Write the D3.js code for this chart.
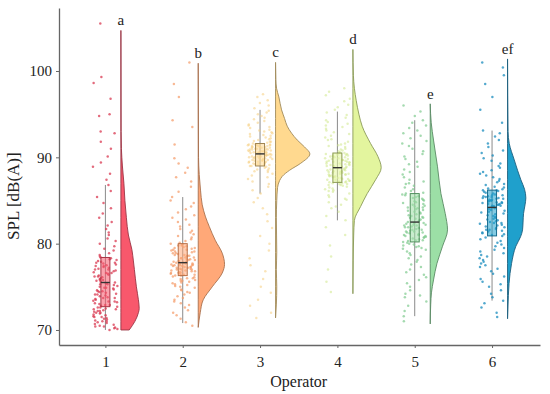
<!DOCTYPE html>
<html>
<head>
<meta charset="utf-8">
<script src="https://cdn.jsdelivr.net/npm/d3@7"></script>
<style>
  body { margin: 0; background: #fff; }
  svg text { font-family: "Liberation Serif", "DejaVu Serif", serif; fill: #222; }
</style>
</head>
<body>
<svg id="chart" width="550" height="394"></svg>
<script>
// operators and their significance letters
const operators = [1, 2, 3, 4, 5, 6];
const letters = ["a", "b", "c", "d", "e", "ef"];

// box statistics
const q1 = [72.7, 76.3, 89.0, 87.1, 80.2, 80.9];
const medians = [75.5, 77.8, 90.4, 88.8, 82.5, 84.2];
const q3 = [78.4, 80.0, 91.6, 90.5, 85.8, 86.2];
const whiskerLo = [70.0, 70.8, 85.8, 82.7, 71.6, 73.4];
const whiskerHi = [86.8, 85.4, 95.5, 95.3, 94.3, 93.1];

// half violin outlines: SPL levels and density at each
const violinLevels = [
  [70.0, 71.0, 72.0, 72.5, 73.5, 75.0, 77.0, 78.0, 79.3, 81.0, 83.0, 85.0, 87.0, 89.0, 91.0, 93.0, 104.7],
  [70.3, 72.0, 73.5, 75.0, 76.6, 77.6, 78.9, 80.4, 82.0, 83.1, 84.5, 86.2, 88.0, 90.0, 100.9],
  [71.4, 73.0, 75.0, 77.0, 79.0, 81.0, 83.0, 85.0, 86.5, 87.3, 87.8, 88.5, 89.3, 90.4, 91.2, 92.0, 92.8, 93.6, 94.5, 95.5, 97.0, 98.0, 99.0, 101.0],
  [74.2, 78.0, 81.0, 82.7, 84.3, 85.8, 87.4, 88.8, 90.1, 91.6, 93.6, 95.0, 96.6, 98.0, 99.5, 102.5],
  [70.7, 73.0, 74.3, 75.8, 77.7, 79.7, 81.6, 83.5, 85.8, 88.9, 92.0, 94.0, 96.2],
  [71.3, 74.0, 75.4, 77.7, 79.7, 80.8, 81.6, 82.5, 83.5, 84.5, 85.3, 86.3, 87.4, 88.5, 89.7, 91.6, 93.0, 101.4]
];
const violinDensity = [
  [0.083, 0.14, 0.175, 0.183, 0.175, 0.155, 0.135, 0.125, 0.11, 0.075, 0.055, 0.04, 0.03, 0.015, 0.005, 0.002, 0],
  [0, 0.02, 0.05, 0.14, 0.24, 0.263, 0.24, 0.17, 0.11, 0.073, 0.04, 0.023, 0.01, 0.003, 0],
  [0, 0.008, 0.012, 0.008, 0.012, 0.01, 0.008, 0.012, 0.02, 0.04, 0.067, 0.14, 0.25, 0.343, 0.29, 0.217, 0.16, 0.117, 0.09, 0.06, 0.033, 0.01, 0.003, 0],
  [0, 0.003, 0.008, 0.015, 0.077, 0.143, 0.227, 0.283, 0.25, 0.177, 0.093, 0.06, 0.033, 0.015, 0.005, 0],
  [0, 0.005, 0.012, 0.033, 0.067, 0.123, 0.173, 0.15, 0.107, 0.073, 0.033, 0.01, 0],
  [0, 0.008, 0.015, 0.04, 0.083, 0.13, 0.15, 0.155, 0.16, 0.175, 0.183, 0.17, 0.133, 0.1, 0.067, 0.017, 0.005, 0]
];

// individual measurements (dB(A))
const spl1 = [70.0,70.1,70.2,70.3,70.4,70.4,70.5,70.6,70.7,70.8,70.9,71.0,71.0,71.1,71.2,71.3,71.4,71.5,71.5,71.6,71.7,71.8,71.9,72.0,72.0,72.1,72.2,72.2,72.3,72.4,72.4,72.5,72.6,72.6,72.7,
  72.8,72.9,72.9,73.0,73.1,73.2,73.3,73.3,73.4,73.5,73.6,73.7,73.7,73.8,73.9,74.0,74.1,74.1,74.2,74.3,74.4,74.5,74.5,74.6,74.7,74.8,74.9,74.9,75.0,75.1,75.2,75.3,75.3,75.4,75.5,
  75.6,75.7,75.8,75.8,75.9,76.0,76.1,76.2,76.2,76.3,76.4,76.5,76.6,76.6,76.7,76.8,76.9,77.0,77.0,77.1,77.2,77.3,77.4,77.4,77.5,77.6,77.7,77.8,77.8,77.9,78.0,78.1,78.2,78.3,78.4,
  78.5,78.7,78.9,79.2,79.4,79.7,80.0,80.3,80.6,81.0,81.3,81.7,82.1,82.5,83.0,83.5,84.1,84.7,85.4,86.1,86.8,87.4,88.1,88.9,89.4,90.1,91.0,91.8,92.8,93.0,94.8,95.0,96.8,98.6,99.3,105.5];
const spl2 = [70.5,70.9,71.3,71.7,72.0,72.3,72.6,72.9,73.1,73.3,73.5,73.7,73.9,74.1,74.3,74.4,74.6,74.7,74.9,75.0,75.1,75.2,75.3,75.4,75.5,75.6,75.7,75.7,75.8,75.9,76.0,76.0,76.1,76.2,76.3,
  76.3,76.4,76.4,76.5,76.5,76.6,76.6,76.7,76.7,76.8,76.8,76.9,76.9,77.0,77.0,77.0,77.1,77.1,77.2,77.2,77.3,77.3,77.3,77.4,77.4,77.5,77.5,77.5,77.6,77.6,77.7,77.7,77.7,77.8,77.8,
  77.9,77.9,78.0,78.0,78.1,78.1,78.2,78.2,78.3,78.3,78.4,78.4,78.5,78.6,78.6,78.7,78.7,78.8,78.9,78.9,79.0,79.1,79.1,79.2,79.3,79.3,79.4,79.5,79.5,79.6,79.7,79.8,79.8,79.9,80.0,
  80.1,80.3,80.5,80.7,80.9,81.1,81.3,81.5,81.7,82.0,82.2,82.5,82.8,83.0,83.3,83.6,84.0,84.3,84.7,85.0,85.4,86.0,86.6,87.2,87.7,88.2,88.8,89.3,89.9,91.5,93.5,94.3,97.0,98.5,101.0];
const spl3 = [71.4,72.0,72.8,73.5,74.3,75.0,75.9,76.8,77.5,78.3,79.2,80.0,80.9,81.8,82.6,83.4,84.1,84.8,85.3,85.8,86.2,86.6,86.9,87.2,87.5,87.7,87.9,88.1,88.3,88.4,88.5,88.6,88.7,88.8,88.9,
  89.0,89.0,89.1,89.1,89.2,89.2,89.3,89.3,89.4,89.4,89.5,89.5,89.5,89.6,89.6,89.7,89.7,89.7,89.8,89.8,89.9,89.9,89.9,90.0,90.0,90.0,90.1,90.1,90.1,90.2,90.2,90.3,90.3,90.3,90.4,
  90.4,90.5,90.5,90.5,90.6,90.6,90.6,90.7,90.7,90.7,90.8,90.8,90.8,90.9,90.9,90.9,91.0,91.0,91.0,91.1,91.1,91.1,91.2,91.2,91.2,91.3,91.3,91.3,91.4,91.4,91.4,91.5,91.5,91.5,91.6,
  91.7,91.8,91.8,91.9,92.0,92.1,92.2,92.3,92.4,92.5,92.6,92.7,92.8,92.9,93.0,93.1,93.2,93.4,93.5,93.7,93.8,94.0,94.2,94.4,94.6,94.8,95.0,95.2,95.4,95.7,96.0,96.3,96.6,97.0,97.3];
const spl4 = [74.4,75.6,77.0,78.5,79.8,81.0,81.9,82.7,83.2,83.7,84.1,84.3,84.5,84.8,85.1,85.2,85.4,85.6,85.8,86.0,86.1,86.2,86.3,86.4,86.5,86.6,86.7,86.8,86.8,86.9,86.9,87.0,87.0,87.1,87.1,
  87.2,87.2,87.3,87.3,87.4,87.4,87.5,87.5,87.6,87.6,87.7,87.7,87.8,87.8,87.9,87.9,88.0,88.0,88.0,88.1,88.1,88.2,88.2,88.3,88.3,88.4,88.4,88.5,88.5,88.6,88.6,88.7,88.7,88.8,88.8,
  88.9,88.9,89.0,89.0,89.1,89.1,89.2,89.2,89.3,89.3,89.4,89.4,89.5,89.5,89.5,89.6,89.6,89.7,89.7,89.8,89.8,89.9,89.9,90.0,90.0,90.1,90.1,90.2,90.2,90.3,90.3,90.4,90.4,90.5,90.5,
  90.6,90.7,90.8,90.9,91.0,91.2,91.3,91.4,91.5,91.6,91.8,92.0,92.1,92.3,92.5,92.7,92.9,93.1,93.3,93.5,93.7,93.9,94.1,94.3,94.6,94.9,95.2,95.5,95.8,96.1,96.5,96.8,97.2,97.6,98.0];
const spl5 = [71.0,71.6,72.2,72.8,73.3,73.8,74.0,74.2,74.6,75.0,75.4,75.8,76.1,76.4,76.7,77.0,77.3,77.6,77.9,78.1,78.3,78.5,78.7,78.9,79.1,79.3,79.4,79.5,79.6,79.7,79.8,79.9,80.0,80.1,80.2,
  80.3,80.4,80.4,80.5,80.6,80.7,80.7,80.8,80.9,80.9,81.0,81.0,81.1,81.2,81.3,81.3,81.4,81.4,81.5,81.6,81.6,81.7,81.8,81.8,81.9,81.9,82.0,82.1,82.1,82.2,82.2,82.3,82.4,82.4,82.5,
  82.6,82.7,82.8,82.9,83.0,83.0,83.1,83.2,83.3,83.4,83.5,83.6,83.7,83.8,83.9,84.0,84.1,84.2,84.2,84.3,84.4,84.5,84.6,84.7,84.8,84.9,85.0,85.1,85.2,85.3,85.4,85.5,85.6,85.7,85.8,
  85.9,86.1,86.3,86.5,86.7,86.9,87.0,87.2,87.4,87.7,88.0,88.3,88.6,88.9,89.2,89.5,89.8,90.1,90.4,90.7,91.0,91.3,91.6,91.9,92.2,92.5,92.8,93.1,93.4,93.7,94.0,94.3,94.8,95.3,96.0];
const spl6 = [71.5,72.0,72.6,73.1,73.4,73.8,74.2,74.6,75.0,75.3,75.6,75.9,76.2,76.5,76.8,77.1,77.3,77.5,77.7,77.9,78.1,78.3,78.5,78.7,78.9,79.1,79.3,79.5,79.7,79.9,80.1,80.3,80.5,80.7,80.9,
  81.0,81.1,81.2,81.3,81.4,81.5,81.6,81.6,81.7,81.8,81.9,82.0,82.1,82.2,82.3,82.4,82.4,82.5,82.6,82.7,82.8,82.9,83.0,83.1,83.2,83.3,83.4,83.5,83.6,83.7,83.8,83.9,84.0,84.1,84.2,
  84.3,84.3,84.4,84.4,84.5,84.5,84.6,84.6,84.7,84.7,84.8,84.8,84.9,84.9,85.0,85.0,85.1,85.1,85.2,85.2,85.3,85.3,85.4,85.4,85.5,85.5,85.6,85.6,85.7,85.8,85.9,86.0,86.1,86.2,86.2,
  86.3,86.4,86.5,86.6,86.8,86.9,87.1,87.3,87.5,87.7,87.9,88.1,88.3,88.5,88.8,89.0,89.3,89.6,89.9,90.2,90.5,90.8,91.2,91.6,92.0,92.4,92.8,93.1,94.0,95.5,97.0,98.5,99.5,100.4,101.0];
const measurements = [spl1, spl2, spl3, spl4, spl5, spl6];

const yTicks = [70, 80, 90, 100];

const fillColors = ["#F8586C", "#FFA878", "#FFD98F", "#E3F59E", "#9CDFA6", "#1FA0CC"];
const pointColors = ["#D93A52", "#F59A66", "#F6CD7E", "#CFE88A", "#7FCB8F", "#1A8CBE"];
const pointAlpha = [0.75, 0.7, 0.55, 0.55, 0.7, 0.75];
const boxStroke = ["#A83444", "#B87048", "#A08450", "#8A9A50", "#4F8F5C", "#176A8C"];
const violinStroke = ["#9A3444", "#A8704E", "#A08A5A", "#8A9A58", "#5A8A64", "#1D5F7E"];

const svg = d3.select("#chart");

const x = d3.scaleLinear().domain([0.4, 6.62]).range([59, 540]);
const y = d3.scaleLinear().domain([68.26, 107.3]).range([345, 8]);
const w = d3.scaleLinear().domain([0, 0.35]).range([0, 35]);

// deterministic jitter in [-0.5, 0.5) from an integer hash of the index
function jitter(k, seed) {
  let h = (k + 1) * 374761393 + seed * 668265263;
  h = Math.imul(h ^ (h >>> 13), 1274126177);
  h = h ^ (h >>> 16);
  return (h >>> 0) / 4294967296 - 0.5;
}

// axes
const xAxis = svg.append("g")
  .attr("transform", "translate(0,345)")
  .call(d3.axisBottom(x).tickValues(operators).tickFormat(d3.format("d"))
    .tickSize(3).tickSizeOuter(0).tickPadding(5));
const yAxis = svg.append("g")
  .attr("transform", "translate(59,0)")
  .call(d3.axisLeft(y).tickValues(yTicks).tickSize(3).tickSizeOuter(0).tickPadding(4));

[xAxis, yAxis].forEach(g => {
  g.select(".domain").attr("stroke", "#666").attr("stroke-width", 1.3);
  g.selectAll(".tick line").attr("stroke", "#666");
  g.selectAll(".tick text")
    .attr("font-family", "Liberation Serif, serif")
    .attr("font-size", 15)
    .attr("fill", "#222");
});
xAxis.selectAll(".tick text").attr("dy", "0.95em");

svg.append("text")
  .attr("x", x(3.5))
  .attr("y", 387)
  .attr("text-anchor", "middle")
  .attr("font-size", 16)
  .text("Operator");

svg.append("text")
  .attr("transform", `translate(19,${y(85.5)}) rotate(-90)`)
  .attr("text-anchor", "middle")
  .attr("font-size", 17)
  .text("SPL [dB(A)]");

const violinOffset = 15.5;
const jitterWidth = 25;
const boxWidth = 9;

operators.forEach((op, i) => {
  const cx = x(op);
  const g = svg.append("g").attr("class", "operator");

  // half violin
  const profile = violinLevels[i].map((v, k) => ({ v: v, d: violinDensity[i][k] }));
  const area = d3.area()
    .y(d => y(d.v))
    .x0(cx + violinOffset)
    .x1(d => cx + violinOffset + w(d.d))
    .curve(d3.curveMonotoneY);
  g.append("path")
    .datum(profile)
    .attr("d", area)
    .attr("fill", fillColors[i])
    .attr("stroke", violinStroke[i])
    .attr("stroke-width", 0.9);

  // whisker
  g.append("line")
    .attr("x1", cx).attr("x2", cx)
    .attr("y1", y(whiskerLo[i])).attr("y2", y(whiskerHi[i]))
    .attr("stroke", "#8a8a8a")
    .attr("stroke-width", 1);

  // jittered raw points
  g.selectAll("circle")
    .data(measurements[i])
    .join("circle")
    .attr("cx", (d, k) => cx + jitter(k, op) * jitterWidth)
    .attr("cy", d => y(d))
    .attr("r", 1.25)
    .attr("fill", pointColors[i])
    .attr("fill-opacity", pointAlpha[i]);

  // box
  g.append("rect")
    .attr("x", cx - boxWidth / 2)
    .attr("width", boxWidth)
    .attr("y", y(q3[i]))
    .attr("height", y(q1[i]) - y(q3[i]))
    .attr("fill", fillColors[i])
    .attr("fill-opacity", 0.55)
    .attr("stroke", boxStroke[i])
    .attr("stroke-width", 1);

  g.append("line")
    .attr("x1", cx - boxWidth / 2).attr("x2", cx + boxWidth / 2)
    .attr("y1", y(medians[i])).attr("y2", y(medians[i]))
    .attr("stroke", "#333")
    .attr("stroke-width", 1.4);

  // significance letter
  const top = d3.max(violinLevels[i]);
  g.append("text")
    .attr("x", cx + violinOffset)
    .attr("y", y(top) - 5)
    .attr("text-anchor", "middle")
    .attr("font-size", 15)
    .text(letters[i]);
});
</script>
</body>
</html>
